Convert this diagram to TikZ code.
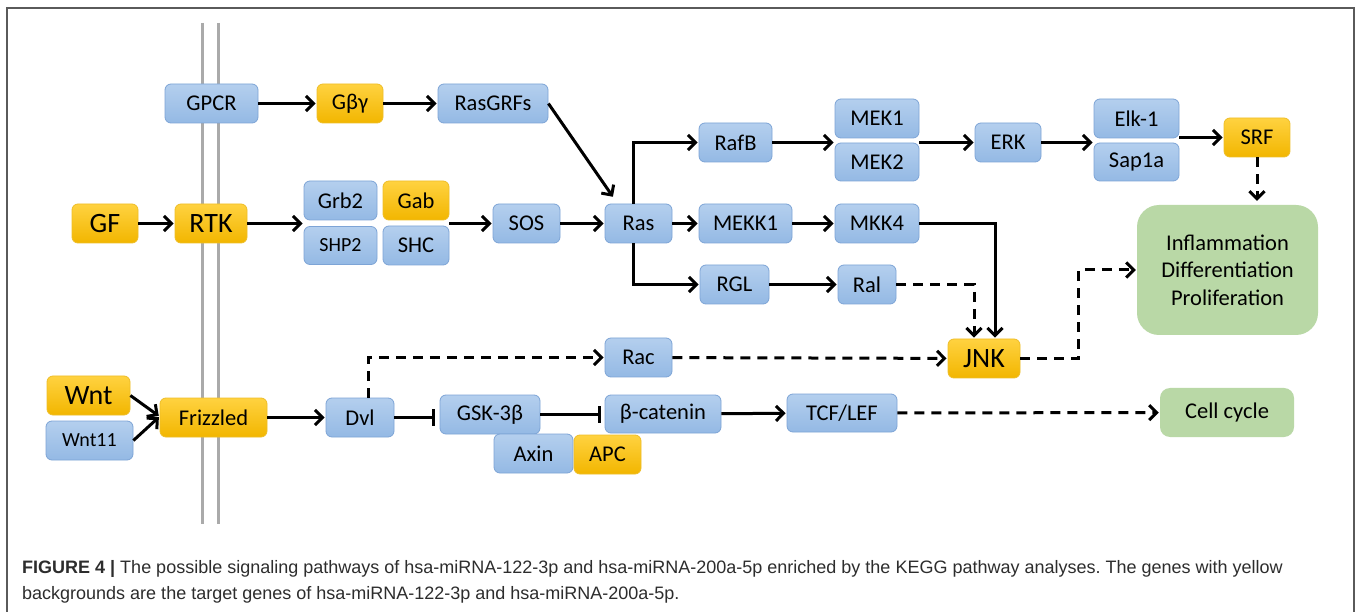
\documentclass[tikz,border=0pt]{standalone}
\usepackage{fontspec}
\setmainfont{Carlito}
\newfontfamily\capfont{Liberation Sans}
\usetikzlibrary{arrows.meta,calc}
\frenchspacing
\definecolor{bluetop}{RGB}{180,207,238}
\definecolor{bluebot}{RGB}{148,185,228}
\definecolor{blueline}{RGB}{125,164,214}
\definecolor{yeltop}{RGB}{255,210,64}
\definecolor{yelbot}{RGB}{242,182,0}
\definecolor{yelline}{RGB}{238,190,40}
\definecolor{grnfill}{RGB}{185,216,166}
\definecolor{memb}{RGB}{170,170,170}
\definecolor{framec}{RGB}{90,90,90}
\definecolor{captext}{RGB}{45,45,45}
\tikzset{
  gene/.style={rounded corners=6pt, inner sep=0pt, font=\fontsize{22.5}{24}\selectfont, text=black},
  blu/.style={gene, draw=blueline, line width=0.8pt, top color=bluetop, bottom color=bluebot},
  yel/.style={gene, draw=yelline, line width=0.8pt, top color=yeltop, bottom color=yelbot},
  grn/.style={gene, fill=grnfill, rounded corners=22pt},
  big/.style={font=\fontsize{28}{30}\selectfont},
  small/.style={font=\fontsize{20}{22}\selectfont},
  sz/.style 2 args={minimum width=#1pt, minimum height=#2pt},
  arr/.style={line width=3pt, -{Straight Barb[length=7.5pt,width=15pt]}, shorten >=1pt},
  darr/.style={arr, dash pattern=on 10pt off 7pt},
  inh/.style={line width=3pt, -{Bar[width=17pt,line width=3pt]}},
}
\begin{document}
\begin{tikzpicture}[x=1pt,y=-1pt]
\useasboundingbox (0,0) rectangle (1358,612);
\fill[white] (0,0) rectangle (1358,612);
\draw[framec, line width=1.3pt] (7,640) -- (7,8) -- (1354,8) -- (1354,640);
% membrane
\draw[memb, line width=3pt] (202,23) -- (202,524);
\draw[memb, line width=3pt] (218,23) -- (218,524);
% nodes
\node[blu, sz={93}{39}] (GPCR) at (211.5,103.5) {GPCR};
\node[yel, sz={66}{39}] (Gbg) at (350,103.5) {Gβγ};
\node[blu, sz={110}{39}] (RasGRFs) at (493,103.5) {RasGRFs};
\node[yel, big, sz={66}{39}] (GF) at (105,223.5) {GF};
\node[yel, big, sz={72}{39}] (RTK) at (211,223.5) {RTK};
\node[blu, sz={73}{39}] (Grb2) at (340.5,200.5) {Grb2};
\node[yel, sz={66}{39}] (Gab) at (416,200.5) {Gab};
\node[blu, small, sz={73}{38}] (SHP2) at (340.5,245.5) {SHP2};
\node[blu, sz={66}{39}] (SHC) at (416,245.5) {SHC};
\node[blu, sz={67}{39}] (SOS) at (526.5,223.5) {SOS};
\node[blu, sz={67}{39}] (Ras) at (638.5,223.5) {Ras};
\node[blu, sz={73}{39}] (RafB) at (735.5,142.5) {RafB};
\node[blu, sz={84}{39}] (MEK1) at (877,118.5) {MEK1};
\node[blu, sz={84}{38}] (MEK2) at (877,162) {MEK2};
\node[blu, sz={66}{39}] (ERK) at (1008,142.5) {ERK};
\node[blu, sz={85}{39}] (Elk1) at (1136.5,118.5) {Elk-1};
\node[blu, sz={85}{38}] (Sap1a) at (1136.5,162) {Sap1a};
\node[yel, sz={66}{39}] (SRF) at (1257,137.5) {SRF};
\node[blu, sz={93}{39}] (MEKK1) at (745.5,223.5) {MEKK1};
\node[blu, sz={84}{39}] (MKK4) at (877,223.5) {MKK4};
\node[blu, sz={69}{39}] (RGL) at (734.5,284.5) {RGL};
\node[blu, sz={58}{39}] (Ral) at (867,284.5) {Ral};
\node[grn, sz={181}{130}, align=center, font=\fontsize{22.5}{27.5}\selectfont] (Infl) at (1227.5,270) {Inflammation\\Differentiation\\Proliferation};
\node[yel, big, sz={72}{39}] (JNK) at (984,358.5) {JNK};
\node[blu, sz={67}{39}] (Rac) at (638.5,357.5) {Rac};
\node[yel, big, sz={83}{39}] (Wnt) at (88.5,395.5) {Wnt};
\node[blu, small, sz={87}{39}] (Wnt11) at (89.5,440.5) {Wnt11};
\node[yel, sz={107}{39}] (Frizzled) at (213.5,417.5) {Frizzled};
\node[blu, sz={68}{39}] (Dvl) at (360,417.5) {Dvl};
\node[blu, sz={100}{39}] (GSK) at (490,414.5) {GSK-3β};
\node[blu, sz={79}{39}] (Axin) at (533.5,453.5) {Axin};
\node[yel, sz={67}{39}] (APC) at (607.5,454.5) {APC};
\node[blu, sz={116}{38}] (bcat) at (663,414) {β-catenin};
\node[blu, sz={110}{38}] (TCF) at (842,413) {TCF/LEF};
\node[grn, rounded corners=10pt, sz={134}{49}] (Cell) at (1227,412.5) {Cell cycle};
% connectors
\draw[arr] (GPCR) -- (Gbg);
\draw[arr] (Gbg) -- (RasGRFs);
\draw[arr] (RasGRFs.east) -- ([xshift=-25pt,yshift=6pt]Ras.north);
\draw[arr] (GF) -- (RTK);
\draw[arr] (RTK.east) -- (Grb2.west |- RTK.east);
\draw[arr] (Gab.east |- SOS.west) -- (SOS.west);
\draw[arr] (SOS) -- (Ras);
\draw[arr] ([xshift=-5.5pt]Ras.north) |- (RafB.west);
\draw[arr] ([xshift=-5.5pt]Ras.south) |- (RGL.west);
\draw[arr] (Ras) -- (MEKK1);
\draw[arr] (RafB.east) -- (MEK1.west |- RafB.east);
\draw[arr] (MEK1.east |- ERK.west) -- (ERK.west);
\draw[arr] (ERK.east) -- (Elk1.west |- ERK.east);
\draw[arr] (Elk1.east |- SRF.west) -- (SRF.west);
\draw[darr, shorten >=4pt] (SRF.south) -- (SRF.south |- Infl.north);
\draw[arr] (MEKK1) -- (MKK4);
\draw[arr] (RGL) -- (Ral);
\draw[arr] (MKK4.east) -| ([xshift=11pt]JNK.north);
\draw[darr] (Ral.east) -| ([xshift=-10pt]JNK.north);
\draw[darr] (Rac) -- (JNK);
\draw[darr] ([xshift=8pt]Dvl.north) |- (Rac.west);
\draw[darr] (JNK.east) -| ($(JNK.east)!0.5!(Infl.west)$) |- (Infl.west);
\draw[arr] (Wnt.east) -- ([yshift=1pt]Frizzled.west);
\draw[arr] (Wnt11.east) -- ([yshift=1pt]Frizzled.west);
\draw[arr] (Frizzled) -- (Dvl);
\draw[inh, shorten >=5pt] (Dvl.east) -- (GSK.west |- Dvl.east);
\draw[inh, shorten >=4pt] (GSK.east) -- (bcat.west |- GSK.east);
\draw[arr] (bcat) -- (TCF);
\draw[darr] (TCF) -- (Cell);
% caption
\node[anchor=base west, inner sep=0pt, text=captext, font=\capfont\fontsize{18}{20}\selectfont] (cap1) at (22,573) {\textbf{FIGURE 4 |} The possible signaling pathways of hsa-miRNA-122-3p and hsa-miRNA-200a-5p enriched by the KEGG pathway analyses. The genes with yellow};
\node[anchor=base west, inner sep=0pt, text=captext, font=\capfont\fontsize{18}{20}\selectfont] (cap2) at (22,599) {backgrounds are the target genes of hsa-miRNA-122-3p and hsa-miRNA-200a-5p.};
\end{tikzpicture}
\end{document}
